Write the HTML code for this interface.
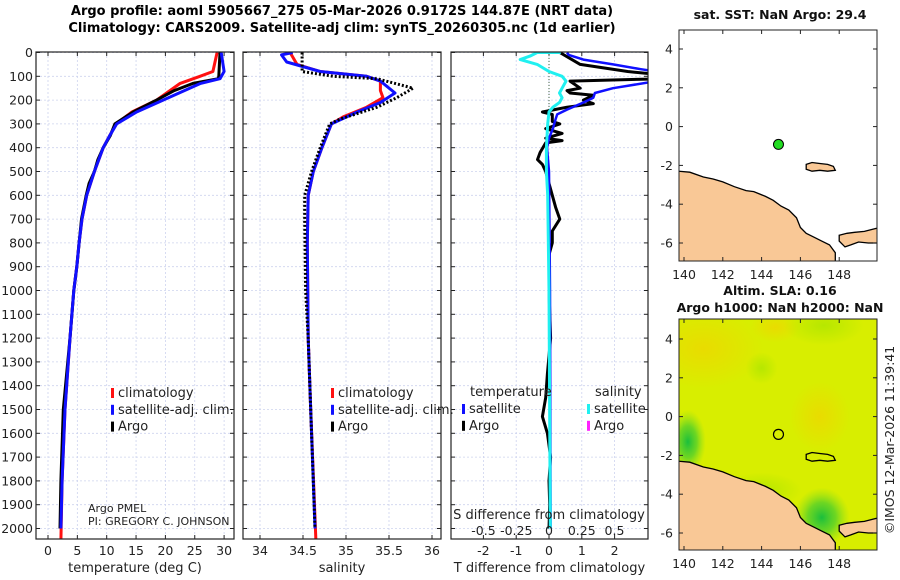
<!DOCTYPE html>
<html><head><meta charset="utf-8"><style>
html,body{margin:0;padding:0;background:#fff;}
svg{display:block;font-family:"DejaVu Sans","Liberation Sans",sans-serif;}
</style></head><body>
<svg id="fig" width="900" height="580" viewBox="0 0 900 580" xmlns="http://www.w3.org/2000/svg">
<defs>
<clipPath id="c1"><rect x="36" y="52" width="198" height="487"/></clipPath>
<clipPath id="c2"><rect x="243" y="52" width="198" height="487"/></clipPath>
<clipPath id="c3"><rect x="451" y="52" width="197" height="487"/></clipPath>
<clipPath id="cm1"><rect x="679" y="30" width="198" height="231"/></clipPath>
<clipPath id="cm2"><rect x="679" y="319" width="198" height="231"/></clipPath>
<radialGradient id="gOr"><stop offset="0" stop-color="#f0d400" stop-opacity="0.7"/><stop offset="1" stop-color="#f0d400" stop-opacity="0"/></radialGradient>
<radialGradient id="gGr"><stop offset="0" stop-color="#a8e400" stop-opacity="0.7"/><stop offset="1" stop-color="#a8e400" stop-opacity="0"/></radialGradient>
<radialGradient id="gDk"><stop offset="0" stop-color="#10bc40" stop-opacity="0.95"/><stop offset="0.5" stop-color="#40cc30" stop-opacity="0.7"/><stop offset="1" stop-color="#80dc20" stop-opacity="0"/></radialGradient>
</defs>
<g font-weight="bold" font-size="13" text-anchor="middle">
<text x="342" y="15">Argo profile: aoml 5905667_275 05-Mar-2026 0.9172S 144.87E (NRT data)</text>
<text x="342" y="32">Climatology: CARS2009. Satellite-adj clim: synTS_20260305.nc (1d earlier)</text>
</g>
<g id="panels"></g>
<g id="maps"></g>
</svg>
<script>
// ---- data ----
const depthTicks=[0,100,200,300,400,500,600,700,800,900,1000,1100,1200,1300,1400,1500,1600,1700,1800,1900,2000];
const tempTicks=[0,5,10,15,20,25,30];
const salTicks=[34,34.5,35,35.5,36];
const salTickLabels=["34","34.5","35","35.5","36"];
const dtTicks=[-2,-1,0,1,2];
const dsTicks=[-0.5,-0.25,0,0.25,0.5];
const dsTickLabels=["-0.5","-0.25","0","0.25","0.5"];

const argoTDepth=[0,100,110,130,160,200,250,300,350,400,450,500,550,600,700,800,900,1000,1200,1500,1800,2000];
const argoT=[29.3,29.1,29.0,24.7,21.5,18.5,14.5,11.4,10.6,9.4,8.5,7.9,7.0,6.5,5.7,5.3,4.9,4.4,3.75,2.6,2.2,2.05];
const climTDepth=[0,80,100,130,200,250,300,350,400,500,600,700,800,900,1000,1200,1500,1800,2050];
const climT=[28.8,28.1,25.9,22.5,18.5,14.3,11.6,10.5,9.4,7.9,6.6,5.8,5.3,4.9,4.4,3.75,2.9,2.4,2.2];
const satTDepth=[0,80,110,130,200,250,300,350,400,500,600,700,800,900,1000,1200,1500,1800,2000];
const satT=[29.5,30.0,29.3,26.0,19.6,15.1,11.7,10.5,9.4,7.9,6.6,5.8,5.3,4.9,4.4,3.75,2.9,2.4,2.2];

const argoSDepth=[0,80,100,110,150,190,230,280,300,400,500,600,700,1000,1200,1500,2000];
const argoS=[34.49,34.49,34.85,35.36,35.78,35.59,35.36,34.93,34.81,34.70,34.60,34.52,34.52,34.53,34.56,34.59,34.64];
const climSDepth=[0,50,80,100,120,160,190,230,270,300,400,500,600,800,1200,1500,2050];
const climS=[34.35,34.43,34.70,35.24,35.40,35.40,35.43,35.24,34.97,34.83,34.72,34.62,34.56,34.55,34.56,34.59,34.65];
const satSDepth=[0,10,40,80,100,120,170,210,250,300,400,500,600,800,1200,1500,2000];
const satS=[34.38,34.25,34.31,34.70,35.24,35.40,35.57,35.40,35.13,34.83,34.72,34.62,34.56,34.55,34.56,34.59,34.64];

const argoDTDepth=[0,50,80,95,110,120,150,160,170,180,200,215,230,250,260,290,300,320,340,360,370,380,420,450,470,500,600,650,700,750,800,850,1000,1200,1350,1450,1530,1600,1700,1800,1900,2000];
const argoDT=[0.33,0.95,2.4,3.5,3.5,0.64,0.95,0.55,0.64,1.35,1.05,1.35,0.55,-0.2,0.1,0.1,0.33,-0.1,0.4,-0.1,0.4,-0.1,-0.27,-0.35,-0.2,-0.1,0.1,0.2,0.33,0.1,0.1,0.0,0.0,0.05,-0.05,-0.1,-0.2,-0.05,0.05,0.0,0.02,0.0];
const satDTDepth=[0,10,30,50,70,85,115,150,170,190,210,240,260,280,320,360,400,500,1000,2000];
const satDT=[0.55,0.6,1.05,1.95,2.8,3.5,3.5,1.95,1.4,1.35,1.05,0.55,0.25,0.2,0.12,0.0,-0.06,0.0,0.03,0.05];
const satDSDepth=[0,0,15,30,50,80,100,120,150,170,190,210,230,250,300,400,500,600,1000,2000];
const satDS=[0.09,-0.09,-0.145,-0.22,-0.09,0.0,0.1,0.13,0.1,0.08,0.1,0.08,0.03,0.0,-0.01,-0.02,-0.02,-0.01,0.0,0.01];

const lonTicks=[140,142,144,146,148];
const latTicks=[4,2,0,-2,-4,-6];
const argoLon=144.87, argoLat=-0.917;
const coastLon=[139.7,140.3,141,141.5,142,142.6,143.2,143.6,144.2,144.6,145,145.4,145.8,146,146.3,146.7,147.1,147.5,147.8,147.8,139.7];
const coastLat=[-2.3,-2.35,-2.6,-2.7,-2.85,-3.1,-3.3,-3.35,-3.6,-3.8,-4.1,-4.3,-4.7,-5.2,-5.5,-5.7,-5.9,-6.1,-6.5,-7.2,-7.2];
const nbLon=[148.0,148.4,148.8,149.3,149.7,150.1,150.1,149.5,149.0,148.6,148.3,148.0];
const nbLat=[-5.6,-5.5,-5.45,-5.4,-5.3,-5.2,-6.0,-6.0,-5.95,-6.1,-6.2,-5.9];
const manusLon=[146.3,146.6,147.0,147.4,147.7,147.8,147.4,147.0,146.6,146.3];
const manusLat=[-1.95,-1.85,-1.9,-1.95,-2.05,-2.25,-2.3,-2.25,-2.3,-2.2];

// ---- scales ----
const yD=d=>52.5+d*0.238;
const xT=t=>48+t*5.87;
const xS=s=>260+(s-34)*86;
const xDT=v=>549+v*32.8;
const xDS=v=>549+v*131;
const mx=lon=>684+(lon-140)*19.4;
const my1=lat=>126.6-lat*19.4;
const my2=lat=>416.6-lat*19.4;

const NS="http://www.w3.org/2000/svg";
function mk(tag,attrs,parent){const e=document.createElementNS(NS,tag);for(const k in attrs)e.setAttribute(k,attrs[k]);parent.appendChild(e);return e;}
const panels=document.getElementById('panels');

function axesFrame(x0,x1,name,xticks,xfn,xlabels,xtitle,showDepth){
  const g=mk('g',{},panels);
  
  
  depthTicks.forEach(d=>{const l=mk('line',{x1:x0,x2:x1,y1:yD(d),y2:yD(d),stroke:'#cdd3ee','stroke-width':0.8,'stroke-dasharray':'2,2'},g);
    
    
    const t1=mk('line',{x1:x0,x2:x0+4,y1:yD(d),y2:yD(d),stroke:'#222'},g);
    
    
    mk('line',{x1:x1-4,x2:x1,y1:yD(d),y2:yD(d),stroke:'#222'},g);
    if(showDepth){const t=mk('text',{x:x0-3,y:yD(d)+4.5,'text-anchor':'end','font-size':12.5,fill:'#222'},g);t.textContent=d;
      
      }
  });
  xticks.forEach((v,i)=>{const X=xfn(v);
    const l=mk('line',{x1:X,x2:X,y1:52,y2:539,stroke:'#cdd3ee','stroke-width':0.8,'stroke-dasharray':'2,2'},g);
    
    
    mk('line',{x1:X,x2:X,y1:535,y2:539,stroke:'#222'},g);
    mk('line',{x1:X,x2:X,y1:52,y2:56,stroke:'#222'},g);
    const t=mk('text',{x:X,y:555,'text-anchor':'middle','font-size':12.5,fill:'#222'},g);t.textContent=xlabels[i];
    
    
  });
  const tt=mk('text',{x:(x0+x1)/2,y:572,'text-anchor':'middle','font-size':13,fill:'#222'},g);tt.textContent=xtitle;
  
  
  return g;
}
function series(g,clip,depths,vals,xfn,color,w,dash,name){
  const pts=depths.map((d,i)=>xfn(vals[i]).toFixed(1)+','+yD(d).toFixed(1)).join(' ');
  const p=mk('polyline',{points:pts,fill:'none',stroke:color,'stroke-width':w,'clip-path':'url(#'+clip+')','stroke-linejoin':'round'},g);
  if(dash)p.setAttribute('stroke-dasharray',dash);
  
  
}
function frame(g,x0,x1){const r=mk('rect',{x:x0,y:52,width:x1-x0,height:487,fill:'none',stroke:'#222','stroke-width':1.2},g);
  
  }
function legend(g,x,y,items){
  items.forEach((it,i)=>{
    const m=mk('rect',{x:x,y:y+i*16.8-9,width:3,height:10,fill:it[1]},g);
    
    
    const t=mk('text',{x:x+7,y:y+i*16.8,'font-size':13,fill:'#222'},g);t.textContent=it[0];
    
    
  });
}
const g1=axesFrame(36,234,'temperature-panel',tempTicks,xT,tempTicks.map(String),'temperature (deg C)',true);
series(g1,'c1',climTDepth,climT,xT,'#ff1010',3,null,'clim-temperature-line');
series(g1,'c1',argoTDepth,argoT,xT,'#000',3,null,'argo-temperature-line');
series(g1,'c1',satTDepth,satT,xT,'#1010ff',3,null,'satellite-temperature-line');
frame(g1,36,234);
legend(g1,111,397,[['climatology','#ff1010'],['satellite-adj. clim.','#1010ff'],['Argo','#000']]);
const pi=mk('text',{x:88,y:512,'font-size':11,fill:'#222'},g1);pi.textContent='Argo PMEL';


const pi2=mk('text',{x:88,y:525,'font-size':11,fill:'#222'},g1);pi2.textContent='PI: GREGORY C. JOHNSON';


const g2=axesFrame(243,441,'salinity-panel',salTicks,xS,salTickLabels,'salinity',false);
series(g2,'c2',climSDepth,climS,xS,'#ff1010',3,null,'clim-salinity-line');
series(g2,'c2',satSDepth,satS,xS,'#1010ff',3,null,'satellite-salinity-line');
series(g2,'c2',argoSDepth,argoS,xS,'#000',3,'2,2','argo-salinity-line');
frame(g2,243,441);
legend(g2,331,397,[['climatology','#ff1010'],['satellite-adj. clim.','#1010ff'],['Argo','#000']]);
const g3=axesFrame(451,648,'difference-panel',dtTicks,xDT,dtTicks.map(String),'T difference from climatology',false);
const zl=mk('line',{x1:549,x2:549,y1:52,y2:yD(300),stroke:'#446644','stroke-width':1,'stroke-dasharray':'1,2'},g3);


series(g3,'c3',argoDTDepth,argoDT,xDT,'#000',3,null,'argo-temp-diff-line');
series(g3,'c3',satDTDepth,satDT,xDT,'#1010ff',2.5,null,'satellite-temp-diff-line');
series(g3,'c3',satDSDepth,satDS,xDS,'#20f0f0',3,null,'satellite-sal-diff-line');
frame(g3,451,648);
const st=mk('text',{x:549,y:519,'text-anchor':'middle','font-size':13,fill:'#222'},g3);st.textContent='S difference from climatology';


dsTicks.forEach((v,i)=>{const t=mk('text',{x:xDS(v),y:535,'text-anchor':'middle','font-size':12.5,fill:'#222'},g3);t.textContent=dsTickLabels[i];
  
  });
const lt=mk('text',{x:470,y:396,'font-size':13,fill:'#222'},g3);lt.textContent='temperature';


const ls=mk('text',{x:595,y:396,'font-size':13,fill:'#222'},g3);ls.textContent='salinity';


legend(g3,462,413,[['satellite','#1010ff'],['Argo','#000']]);
legend(g3,587,413,[['satellite','#20f0f0'],['Argo','#ff20ff']]);

const maps=document.getElementById('maps');
function poly(g,lons,lats,myf,fill,clip,name){
  const pts=lons.map((l,i)=>mx(l).toFixed(1)+','+myf(lats[i]).toFixed(1)).join(' ');
  const p=mk('polygon',{points:pts,fill:fill,stroke:'#000','stroke-width':1.3,'clip-path':'url(#'+clip+')'},g);
  
  
}
function mapAxes(g,top,bottom,myf){
  latTicks.forEach(v=>{const Y=myf(v);
    mk('line',{x1:679,x2:683,y1:Y,y2:Y,stroke:'#222'},g);mk('line',{x1:873,x2:877,y1:Y,y2:Y,stroke:'#222'},g);
    const t=mk('text',{x:673,y:Y+4.5,'text-anchor':'end','font-size':12.5,fill:'#222'},g);t.textContent=v;
    
    });
  lonTicks.forEach(v=>{const X=mx(v);
    mk('line',{x1:X,x2:X,y1:bottom-4,y2:bottom,stroke:'#222'},g);mk('line',{x1:X,x2:X,y1:top,y2:top+4,stroke:'#222'},g);
    const t=mk('text',{x:X,y:bottom+18,'text-anchor':'middle','font-size':12.5,fill:'#222'},g);t.textContent=v;
    
    });
  const r=mk('rect',{x:679,y:top,width:198,height:bottom-top,fill:'none',stroke:'#222','stroke-width':1},g);
  
  
}
const m1=mk('g',{},maps);


const t1=mk('text',{x:780,y:19,'text-anchor':'middle','font-size':12.5,'font-weight':'bold',fill:'#111'},m1);t1.textContent='sat. SST: NaN Argo: 29.4';


poly(m1,coastLon,coastLat,my1,'#f9c896','cm1','new-guinea-land');
poly(m1,nbLon,nbLat,my1,'#f9c896','cm1','new-britain-land');
poly(m1,manusLon,manusLat,my1,'#f9c896','cm1','manus-island');
const c1=mk('circle',{cx:mx(argoLon),cy:my1(argoLat),r:5,fill:'#22dd22',stroke:'#000','stroke-width':1},m1);


mapAxes(m1,30,261,my1);
const m2=mk('g',{},maps);


const t2a=mk('text',{x:780,y:295,'text-anchor':'middle','font-size':12.5,'font-weight':'bold',fill:'#111'},m2);t2a.textContent='Altim. SLA: 0.16';


const t2b=mk('text',{x:780,y:312,'text-anchor':'middle','font-size':12.5,'font-weight':'bold',fill:'#111'},m2);t2b.textContent='Argo h1000: NaN h2000: NaN';


const fg=mk('g',{'clip-path':'url(#cm2)'},m2);


mk('rect',{x:679,y:319,width:198,height:231,fill:'#d8ee00'},fg);
mk('ellipse',{cx:mx(141),cy:my2(3.5),rx:60,ry:40,fill:'url(#gOr)'},fg);
mk('ellipse',{cx:mx(144.7),cy:my2(4.6),rx:25,ry:15,fill:'url(#gOr)'},fg);
mk('ellipse',{cx:mx(147),cy:my2(0),rx:30,ry:35,fill:'url(#gOr)'},fg);
mk('ellipse',{cx:mx(147.2),cy:my2(4.7),rx:40,ry:20,fill:'url(#gGr)'},fg);
mk('ellipse',{cx:mx(144),cy:my2(2.5),rx:16,ry:16,fill:'url(#gGr)'},fg);
mk('ellipse',{cx:mx(140.2),cy:my2(-1.3),rx:18,ry:32,fill:'url(#gDk)'},fg);
mk('ellipse',{cx:mx(147.1),cy:my2(-5.2),rx:28,ry:30,fill:'url(#gDk)'},fg);
mk('ellipse',{cx:mx(144),cy:my2(-3.8),rx:40,ry:18,fill:'url(#gGr)'},fg);
poly(m2,coastLon,coastLat,my2,'#f9c896','cm2','new-guinea-land-2');
poly(m2,nbLon,nbLat,my2,'#f9c896','cm2','new-britain-land-2');
poly(m2,manusLon,manusLat,my2,'none','cm2','manus-island-2');
const c2=mk('circle',{cx:mx(argoLon),cy:my2(argoLat),r:5,fill:'none',stroke:'#000','stroke-width':1.2},m2);


mapAxes(m2,319,550,my2);
const cr=mk('text',{x:0,y:0,'text-anchor':'middle','font-size':12.5,fill:'#222',transform:'translate(894,440) rotate(-90)'},maps);cr.textContent='©IMOS 12-Mar-2026 11:39:41';


</script>
</body></html>
